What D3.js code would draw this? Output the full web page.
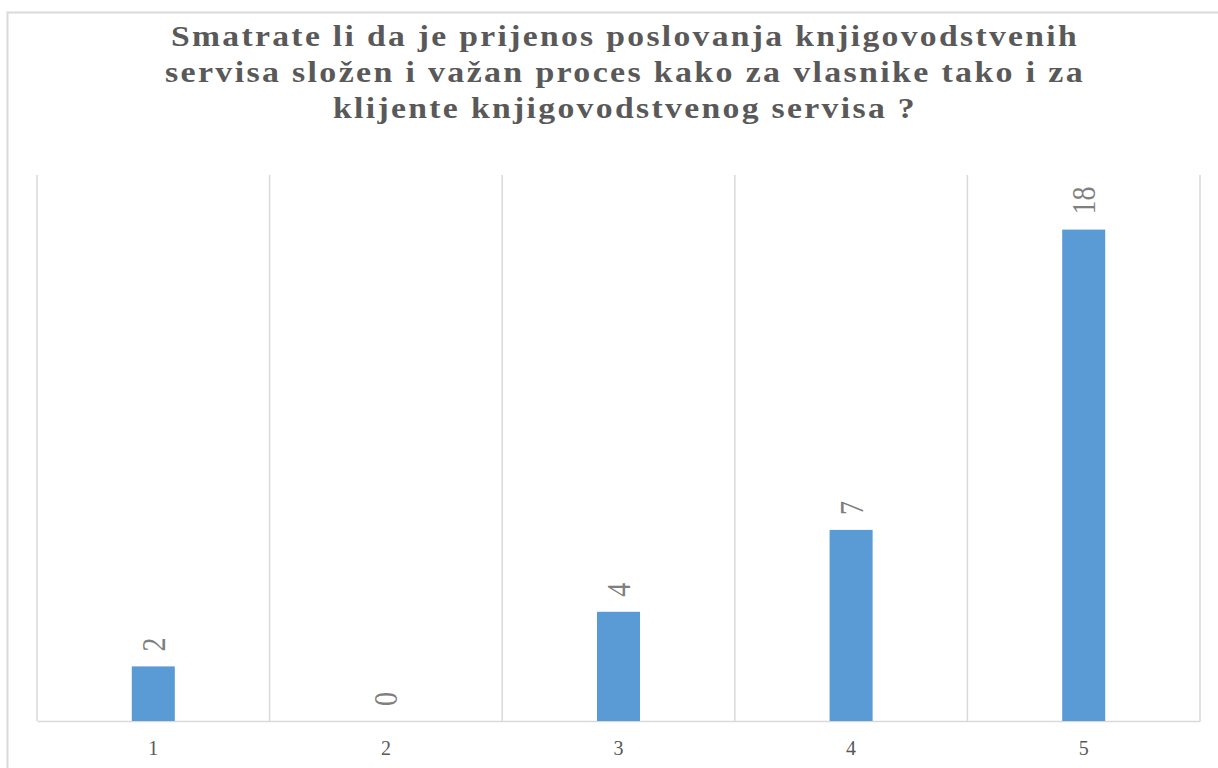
<!DOCTYPE html>
<html><head><meta charset="utf-8">
<script src="https://cdn.jsdelivr.net/npm/d3@7"></script>
<style>body{margin:0;background:#fff}svg{display:block}</style>
</head><body>
<script>
const titleLines = [
  "Smatrate li da je prijenos poslovanja knjigovodstvenih",
  "servisa složen i važan proces kako za vlasnike tako i za",
  "klijente knjigovodstvenog servisa ?"
];
const categories = ["1", "2", "3", "4", "5"];
const values = [2, 0, 4, 7, 18];
const yTicks = [0, 20];

const W = 1218, H = 768;
const m = {left: 37, right: 1200, top: 175, bottom: 721};
const svg = d3.select("body").append("svg").attr("width", W).attr("height", H);

// outer chart border
svg.append("rect").attr("x", 7.5).attr("y", 12.5).attr("width", W + 20).attr("height", H + 20)
  .attr("fill", "none").attr("stroke", "#d9d9d9").attr("stroke-width", 2);

// title
const titleW = [908, 920, 584];
svg.append("g").selectAll("text").data(titleLines).join("text")
  .attr("x", 625).attr("y", (d, i) => 46 + i * 36)
  .attr("text-anchor", "middle")
  .attr("textLength", (d, i) => titleW[i]).attr("lengthAdjust", "spacingAndGlyphs")
  .style("font-family", "'Liberation Serif', 'Times New Roman', serif")
  .style("font-weight", "bold").style("font-size", "29px").style("letter-spacing", "2px")
  .attr("fill", "#595959").text(d => d);

const x = d3.scaleBand().domain(categories).range([m.left, m.right]).paddingInner(0).paddingOuter(0);
const y = d3.scaleLinear().domain(d3.extent(yTicks)).range([m.bottom, m.top]);

// vertical gridlines at category boundaries
const bounds = categories.map(c => x(c)).concat([x(categories[categories.length - 1]) + x.bandwidth()]);
svg.append("g").selectAll("line").data(bounds).join("line")
  .attr("x1", d => d).attr("x2", d => d).attr("y1", m.top).attr("y2", m.bottom)
  .attr("stroke", "#d9d9d9").attr("stroke-width", 1.5);

// x axis
const xAxis = d3.axisBottom(x).tickSize(0).tickPadding(20);
const ga = svg.append("g").attr("transform", `translate(0,${m.bottom})`).call(xAxis);
ga.select(".domain").attr("stroke", "#d9d9d9").attr("stroke-width", 1.5);
ga.selectAll("text").style("font-family", "'Liberation Serif', 'Times New Roman', serif")
  .style("font-size", "20px").attr("fill", "#595959");

// bars
const bw = x.bandwidth() * 0.185;
svg.append("g").selectAll("rect").data(values).join("rect")
  .attr("x", (d, i) => x(categories[i]) + x.bandwidth() / 2 - bw / 2)
  .attr("y", d => y(d)).attr("width", bw).attr("height", d => y(0) - y(d))
  .attr("fill", "#5b9bd5");

// data labels
svg.append("g").selectAll("text").data(values).join("text")
  .attr("transform", (d, i) => `translate(${x(categories[i]) + x.bandwidth() / 2},${y(d) - 15}) rotate(-90) scale(1,1.18)`)
  .attr("dy", "0.35em").attr("text-anchor", "start")
  .style("font-family", "'Liberation Serif', 'Times New Roman', serif")
  .style("font-size", "28px").attr("fill", "#7f7f7f").text(d => d);
</script>
</body></html>
